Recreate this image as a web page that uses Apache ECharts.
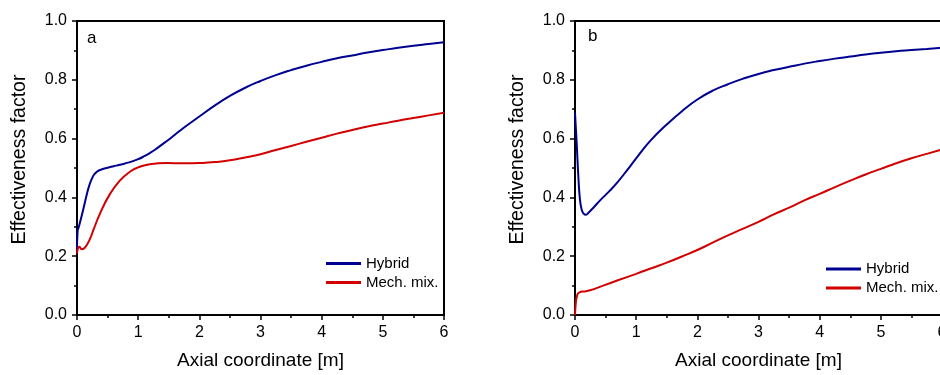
<!DOCTYPE html>
<html>
<head>
<meta charset="utf-8">
<script src="https://cdn.jsdelivr.net/npm/echarts@6/dist/echarts.min.js"></script>
<style>html,body{margin:0;padding:0;background:#fff;overflow:hidden;width:940px;height:375px}#c{width:950px;height:375px}</style>
</head>
<body>
<div id="c"></div>
<script>
// Panel a
var hybridA_x = [0, 0.01, 0.03, 0.08, 0.12, 0.16, 0.2, 0.24, 0.28, 0.33, 0.4, 0.5, 0.6, 0.7, 0.85, 1.0, 1.1, 1.2, 1.3, 1.47, 1.6, 1.74, 2.0, 2.25, 2.5, 2.75, 3.0, 3.25, 3.5, 3.75, 4.0, 4.25, 4.5, 4.75, 5.0, 5.25, 5.5, 5.75, 6.0];
var hybridA_y = [0.22, 0.285, 0.30, 0.34, 0.375, 0.41, 0.44, 0.462, 0.478, 0.488, 0.495, 0.501, 0.506, 0.511, 0.519, 0.530, 0.540, 0.552, 0.566, 0.592, 0.613, 0.636, 0.675, 0.712, 0.745, 0.773, 0.796, 0.816, 0.833, 0.848, 0.861, 0.873, 0.883, 0.893, 0.901, 0.909, 0.916, 0.922, 0.928];
var mechA_x = [0, 0.04, 0.077, 0.13, 0.21, 0.27, 0.376, 0.54, 0.7, 0.87, 1.0, 1.19, 1.47, 1.75, 2.0, 2.25, 2.5, 2.75, 3.0, 3.25, 3.5, 3.75, 4.0, 4.25, 4.5, 4.75, 5.0, 5.25, 5.5, 5.75, 6.0];
var mechA_y = [0.21, 0.232, 0.224, 0.229, 0.258, 0.29, 0.345, 0.412, 0.457, 0.488, 0.502, 0.513, 0.517, 0.516, 0.517, 0.52, 0.526, 0.536, 0.547, 0.561, 0.575, 0.589, 0.603, 0.617, 0.629, 0.641, 0.651, 0.661, 0.670, 0.679, 0.688];
// Panel b
var hybridB_x = [0, 0.027, 0.054, 0.08, 0.11, 0.14, 0.18, 0.22, 0.3, 0.41, 0.57, 0.7, 0.85, 1.0, 1.23, 1.5, 1.77, 2.0, 2.25, 2.5, 2.75, 3.0, 3.25, 3.52, 3.75, 4.0, 4.25, 4.5, 4.75, 5.0, 5.25, 5.5, 5.75, 6.0];
var hybridB_y = [0.688, 0.587, 0.474, 0.395, 0.358, 0.345, 0.341, 0.348, 0.365, 0.39, 0.423, 0.453, 0.492, 0.533, 0.592, 0.648, 0.697, 0.733, 0.763, 0.785, 0.804, 0.82, 0.833, 0.845, 0.855, 0.864, 0.872, 0.879, 0.886, 0.892, 0.897, 0.901, 0.905, 0.909];
var mechB_x = [0, 0.015, 0.027, 0.054, 0.1, 0.14, 0.245, 0.46, 0.7, 1.0, 1.25, 1.5, 1.75, 2.0, 2.25, 2.5, 2.75, 3.0, 3.25, 3.52, 3.75, 4.0, 4.25, 4.5, 4.75, 5.0, 5.25, 5.5, 5.75, 6.0];
var mechB_y = [0.0, 0.045, 0.06, 0.074, 0.079, 0.080, 0.084, 0.100, 0.118, 0.140, 0.159, 0.178, 0.199, 0.221, 0.246, 0.271, 0.294, 0.317, 0.342, 0.367, 0.39, 0.412, 0.435, 0.457, 0.478, 0.497, 0.516, 0.533, 0.548, 0.563];

var seriesNames = ['Hybrid', 'Mech. mix.'];
var panelLabels = ['a', 'b'];
var xTitle = 'Axial coordinate [m]';
var yTitle = 'Effectiveness factor';

var FONT = '"Liberation Sans", Arial, sans-serif';
var BLUE = '#000090';
var RED = '#d20000';

function pairs(xs, ys) { return xs.map(function (x, i) { return [x, ys[i]]; }); }

function xAx(gi) {
  return {
    type: 'value', gridIndex: gi, min: 0, max: 6, interval: 1,
    name: xTitle, nameLocation: 'middle', nameGap: 36,
    nameTextStyle: { fontFamily: FONT, fontSize: 19, color: '#000' },
    axisLine: { show: true, onZero: false, lineStyle: { color: '#000', width: 2 } },
    axisTick: { show: true, inside: false, length: 5, lineStyle: { color: '#000', width: 1.5 } },
    minorTick: { show: true, splitNumber: 2, length: 3, lineStyle: { color: '#000', width: 1.5 } },
    axisLabel: { fontFamily: FONT, fontSize: 16, color: '#000', margin: 10 },
    splitLine: { show: false }
  };
}
function yAx(gi) {
  return {
    type: 'value', gridIndex: gi, min: 0, max: 1, interval: 0.2,
    name: yTitle, nameLocation: 'middle', nameGap: 47,
    nameTextStyle: { fontFamily: FONT, fontSize: 19.5, color: '#000', padding: [0, 0, 0, 17] },
    axisLine: { show: true, onZero: false, lineStyle: { color: '#000', width: 2 } },
    axisTick: { show: true, inside: false, length: 5, lineStyle: { color: '#000', width: 1.5 } },
    minorTick: { show: true, splitNumber: 2, length: 3, lineStyle: { color: '#000', width: 1.5 } },
    axisLabel: { fontFamily: FONT, fontSize: 16, color: '#000', margin: 10,
      formatter: function (v) { return v.toFixed(1); } },
    splitLine: { show: false }
  };
}
function ser(name, data, color, gi) {
  return {
    type: 'line', name: name, xAxisIndex: gi, yAxisIndex: gi, data: data,
    showSymbol: false, smooth: 0.5,
    lineStyle: { color: color, width: 2 }, itemStyle: { color: color },
    z: 3
  };
}
function leg(left, top) {
  return {
    orient: 'vertical', left: left, top: top, padding: 0, itemGap: 4,
    itemWidth: 35, itemHeight: 3, icon: 'rect',
    textStyle: { fontFamily: FONT, fontSize: 15, color: '#000', lineHeight: 15 },
    data: seriesNames
  };
}

var chart = echarts.init(document.getElementById('c'), null, { renderer: 'canvas' });
chart.setOption({
  backgroundColor: '#fff',
  animation: false,
  title: [
    { text: panelLabels[0], left: 87, top: 30, padding: 0, textStyle: { fontFamily: FONT, fontSize: 17, fontWeight: 'normal', color: '#000' } },
    { text: panelLabels[1], left: 588, top: 28, padding: 0, textStyle: { fontFamily: FONT, fontSize: 17, fontWeight: 'normal', color: '#000' } }
  ],
  grid: [
    { left: 77, top: 21, width: 367, height: 296, show: true, borderColor: '#000', borderWidth: 2, backgroundColor: 'transparent' },
    { left: 575, top: 21, width: 367, height: 296, show: true, borderColor: '#000', borderWidth: 2, backgroundColor: 'transparent' }
  ],
  xAxis: [xAx(0), xAx(1)],
  yAxis: [yAx(0), yAx(1)],
  legend: [leg(326, 256), leg(826, 261.5)],
  series: [
    ser(seriesNames[0], pairs(hybridA_x, hybridA_y), BLUE, 0),
    ser(seriesNames[1], pairs(mechA_x, mechA_y), RED, 0),
    ser(seriesNames[0], pairs(hybridB_x, hybridB_y), BLUE, 1),
    ser(seriesNames[1], pairs(mechB_x, mechB_y), RED, 1)
  ]
});
</script>
</body>
</html>
